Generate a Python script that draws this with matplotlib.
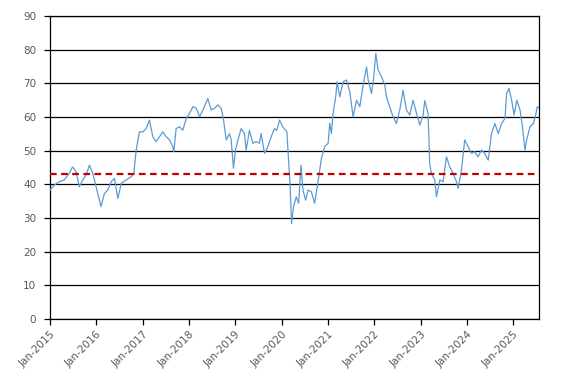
import matplotlib
matplotlib.use("Agg")
import matplotlib.pyplot as plt
import matplotlib.dates as mdates
import pandas as pd

dates = [
    "2015-01-01", "2015-02-04", "2015-03-15", "2015-04-23", "2015-06-02", "2015-06-28",
    "2015-07-25", "2015-08-20", "2015-09-16", "2015-10-12", "2015-11-08", "2015-12-04",
    "2015-12-30", "2016-01-25", "2016-02-07", "2016-03-05", "2016-03-31", "2016-04-27",
    "2016-05-23", "2016-06-19", "2016-07-15", "2016-08-24", "2016-10-02", "2016-10-23",
    "2016-11-10", "2016-12-06", "2017-01-02", "2017-01-28", "2017-02-23", "2017-03-21",
    "2017-04-16", "2017-05-13", "2017-06-08", "2017-07-04", "2017-07-31", "2017-08-26",
    "2017-09-03", "2017-09-21", "2017-10-18", "2017-11-13", "2017-12-10", "2018-01-05",
    "2018-01-31", "2018-02-27", "2018-03-25", "2018-04-20", "2018-05-29", "2018-06-25",
    "2018-07-21", "2018-08-16", "2018-09-12", "2018-09-30", "2018-10-21", "2018-11-16",
    "2018-11-29", "2018-12-17", "2019-01-02", "2019-01-21", "2019-02-16", "2019-03-14",
    "2019-03-27", "2019-04-22", "2019-05-19", "2019-06-14", "2019-07-10", "2019-07-23",
    "2019-08-19", "2019-09-14", "2019-10-11", "2019-11-06", "2019-11-24", "2019-12-15",
    "2020-01-10", "2020-02-11", "2020-02-21", "2020-03-08", "2020-03-19", "2020-04-04",
    "2020-04-25", "2020-05-14", "2020-06-01", "2020-06-17", "2020-07-08", "2020-07-26",
    "2020-08-22", "2020-09-17", "2020-10-13", "2020-11-09", "2020-12-05", "2021-01-01",
    "2021-01-14", "2021-01-27", "2021-02-09", "2021-03-02", "2021-03-13", "2021-04-03",
    "2021-04-29", "2021-05-26", "2021-06-21", "2021-07-17", "2021-08-13", "2021-09-08",
    "2021-10-04", "2021-10-31", "2021-11-13", "2021-12-09", "2021-12-27", "2022-01-12",
    "2022-01-30", "2022-02-26", "2022-03-24", "2022-04-06", "2022-05-02", "2022-05-28",
    "2022-06-24", "2022-07-20", "2022-08-15", "2022-09-11", "2022-10-07", "2022-11-02",
    "2022-11-29", "2022-12-25", "2023-01-20", "2023-02-02", "2023-02-28", "2023-03-13",
    "2023-03-26", "2023-04-22", "2023-05-05", "2023-05-31", "2023-06-26", "2023-07-23",
    "2023-08-18", "2023-09-13", "2023-10-10", "2023-10-23", "2023-11-18", "2023-12-14",
    "2024-01-10", "2024-02-05", "2024-03-02", "2024-03-28", "2024-04-24", "2024-05-20",
    "2024-06-16", "2024-07-12", "2024-08-08", "2024-09-03", "2024-09-30", "2024-10-26",
    "2024-11-08", "2024-11-27", "2024-12-18", "2025-01-06", "2025-01-27", "2025-02-22",
    "2025-03-13", "2025-04-02", "2025-04-15", "2025-05-11", "2025-06-07", "2025-06-25",
    "2025-07-08", "2025-07-24",
]
values = [
    38.3, 39.8, 40.8, 41.3, 43.3, 45.2,
    43.8, 39.3, 41.3, 42.8, 45.7, 43.3,
    39.3, 35.3, 33.4, 37.3, 38.3, 40.8,
    41.8, 35.8, 40.3, 41.3, 42.3, 43.3,
    50.2, 55.6, 55.6, 56.6, 59.1, 54.2,
    52.7, 54.2, 55.6, 54.2, 53.2, 51.2,
    49.7, 56.6, 57.1, 56.1, 59.6, 61.1,
    63.1, 62.6, 60.1, 62.1, 65.5, 62.1,
    62.6, 63.6, 62.6, 59.1, 53.2, 55.1,
    53.2, 44.8, 50.2, 53.2, 56.6, 55.1,
    50.2, 56.1, 52.2, 52.7, 52.2, 55.1,
    49.2, 51.2, 54.2, 56.6, 56.1, 59.1,
    57.1, 55.6, 49.2, 39.3, 28.4, 33.4,
    36.3, 34.4, 45.7, 38.3, 35.3, 38.3,
    37.8, 34.4, 40.6, 47.7, 51.2, 52.2,
    58.2, 55.1, 61.1, 66.0, 70.5, 66.0,
    70.5, 71.0, 67.5, 60.1, 65.0, 63.1,
    69.5, 74.9, 71.0, 67.0, 72.0, 78.9,
    74.0, 72.0, 69.5, 66.0, 63.1, 60.1,
    58.1, 62.1, 68.0, 62.1, 60.6, 65.0,
    61.1, 57.6, 60.6, 64.9, 61.1, 46.2,
    43.3, 41.3, 36.3, 41.3, 40.8, 48.2,
    45.2, 43.3, 40.8, 38.8, 44.2, 53.2,
    51.2, 49.2, 49.7, 48.2, 50.2, 49.2,
    47.2, 55.1, 58.1, 55.1, 58.1, 59.6,
    67.0, 68.5, 65.0, 60.6, 65.0, 62.1,
    57.1, 50.2, 53.2, 57.1, 58.1, 60.6,
    63.1, 62.6,
]
reference_level = 43.0
y_ticks = [0, 10, 20, 30, 40, 50, 60, 70, 80, 90]
x_tick_years = list(range(2015, 2026))

plt.rcParams['font.family'] = ['DejaVu Sans']

x = pd.to_datetime(dates)

fig = plt.figure(figsize=(5.67, 3.83), dpi=100)
ax = fig.add_axes([0.0882, 0.167, 0.863, 0.791])

for yv in y_ticks:
    ax.axhline(yv, color='black', linewidth=0.9, zorder=1)

ax.plot(x, values, color='#5B9BD5', linewidth=0.9, zorder=3)
ax.axhline(reference_level, color='#C00000', linewidth=1.6, linestyle=(0, (3, 2)), zorder=4)

ax.set_ylim(0, 90)
ax.set_yticks(y_ticks)
ax.set_xlim(pd.Timestamp("2015-01-01"), pd.Timestamp("2025-07-24"))
ax.set_xticks([pd.Timestamp(f"{y}-01-01") for y in x_tick_years])
ax.xaxis.set_major_formatter(mdates.DateFormatter('%b-%Y'))

for s in ax.spines.values():
    s.set_color('black')
    s.set_linewidth(0.9)

ax.tick_params(axis='both', colors='black', labelcolor='#595959', labelsize=7.5, length=4, width=0.9)
ax.tick_params(axis='y', pad=6)
for lbl in ax.get_xticklabels():
    lbl.set_rotation(45)
    lbl.set_ha('right')
    lbl.set_rotation_mode('anchor')

fig.savefig('out.png', dpi=100)
